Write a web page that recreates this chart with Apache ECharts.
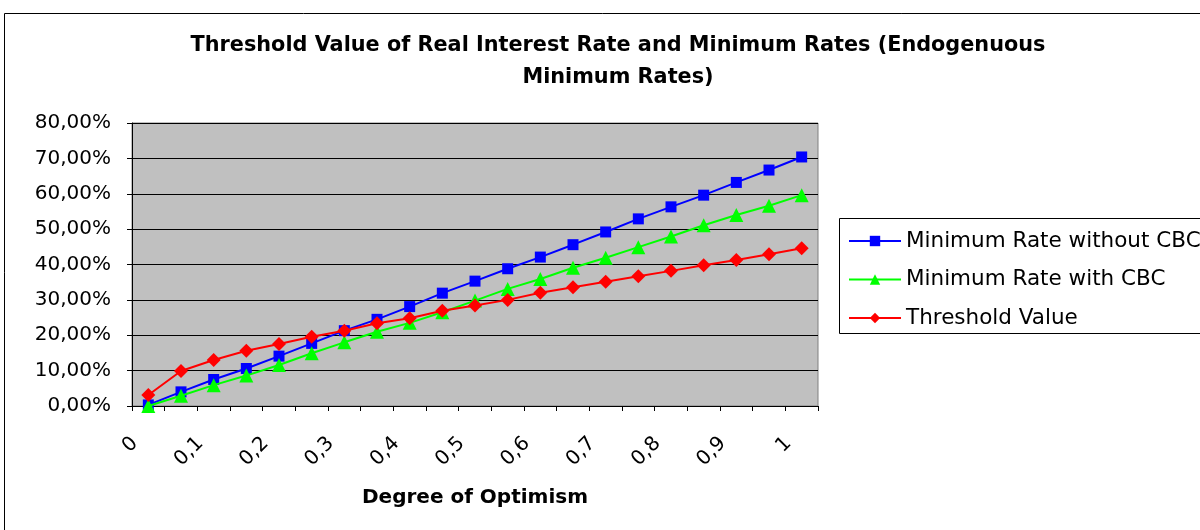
<!DOCTYPE html>
<html><head><meta charset="utf-8">
<script src="https://cdn.jsdelivr.net/npm/echarts@6/dist/echarts.min.js"></script>
<style>html,body{margin:0;padding:0;background:#fff}#c{width:1200px;height:530px}</style>
</head><body><div id="c"></div>
<script>
const categories = ['0','0,05','0,1','0,15','0,2','0,25','0,3','0,35','0,4','0,45','0,5','0,55','0,6','0,65','0,7','0,75','0,8','0,85','0,9','0,95','1'];
const withoutCBC = [0.3,4.0,7.5,10.6,14.1,17.7,21.3,24.5,28.1,31.9,35.3,38.8,42.1,45.6,49.2,52.9,56.3,59.6,63.2,66.7,70.4];
const withCBC = [0,2.9,5.9,8.6,11.6,14.9,18.0,21.0,23.5,26.5,29.8,33.1,35.9,39.1,41.9,44.9,47.9,51.1,54.0,56.6,59.6];
const threshold = [3.1,9.9,13.0,15.6,17.5,19.6,21.3,23.4,24.8,26.9,28.4,30.0,32.0,33.6,35.1,36.7,38.2,39.8,41.3,42.9,44.6];
const yTicks = [0,10,20,30,40,50,60,70,80];

const font = 'DejaVu Sans, sans-serif';
const chart = echarts.init(document.getElementById('c'));
chart.setOption({
  animation:false,
  backgroundColor:'#fff',
  title:{
    text:'Threshold Value of Real Interest Rate and Minimum Rates (Endogenuous\nMinimum Rates)',
    left:613, top:25, textAlign:'center',
    textStyle:{fontFamily:font,fontWeight:'bold',fontSize:20.8,color:'#000',lineHeight:32}
  },
  graphic:[
    {type:'rect',shape:{x:4.5,y:13.5,width:1210,height:530},style:{fill:'none',stroke:'#000',lineWidth:1},z:-1},
    {type:'rect',shape:{x:839.5,y:218.5,width:400,height:115},style:{fill:'#fff',stroke:'#000',lineWidth:1},z:1}
  ],
  legend:{
    orient:'vertical', left:848, top:230, itemGap:16.5, padding:0,
    itemWidth:52, itemHeight:13, z:5,
    textStyle:{fontFamily:font,fontSize:21.5,color:'#000'},
    data:['Minimum Rate without CBC','Minimum Rate with CBC','Threshold Value']
  },
  grid:{left:132,right:382,top:123,bottom:124,show:true,backgroundColor:'#C0C0C0',borderColor:'#808080',borderWidth:1},
  xAxis:{
    type:'category', data:categories, boundaryGap:true,
    name:'Degree of Optimism', nameLocation:'middle', nameGap:82,
    nameTextStyle:{fontFamily:font,fontWeight:'bold',fontSize:20,color:'#000'},
    axisLine:{lineStyle:{color:'#000',width:1}},
    axisTick:{show:true,interval:0,length:5,lineStyle:{color:'#000'}},
    axisLabel:{interval:1,rotate:45,fontFamily:font,fontSize:20,color:'#000',margin:21,padding:[0,19,0,0]}
  },
  yAxis:{
    type:'value', min:0, max:80, interval:10,
    axisLine:{show:true,lineStyle:{color:'#000',width:1}},
    axisTick:{show:true,length:5,lineStyle:{color:'#000'}},
    splitLine:{show:true,lineStyle:{color:'#000',width:1}},
    axisLabel:{fontFamily:font,fontSize:20,color:'#000',margin:21,
      formatter:v=> yTicks.includes(v) ? v.toFixed(2).replace('.',',')+'%' : ''}
  },
  series:[
    {name:'Minimum Rate without CBC',type:'line',data:withoutCBC,color:'#0000FF',
     symbol:'rect',symbolSize:11,lineStyle:{width:2,color:'#0000FF'},itemStyle:{color:'#0000FF'},z:3},
    {name:'Minimum Rate with CBC',type:'line',data:withCBC,color:'#00FF00',
     symbol:'triangle',symbolSize:14,lineStyle:{width:2,color:'#00FF00'},itemStyle:{color:'#00FF00'},z:4},
    {name:'Threshold Value',type:'line',data:threshold,color:'#FF0000',
     symbol:'diamond',symbolSize:[14,14],lineStyle:{width:2,color:'#FF0000'},itemStyle:{color:'#FF0000'},z:5}
  ]
});
</script></body></html>
